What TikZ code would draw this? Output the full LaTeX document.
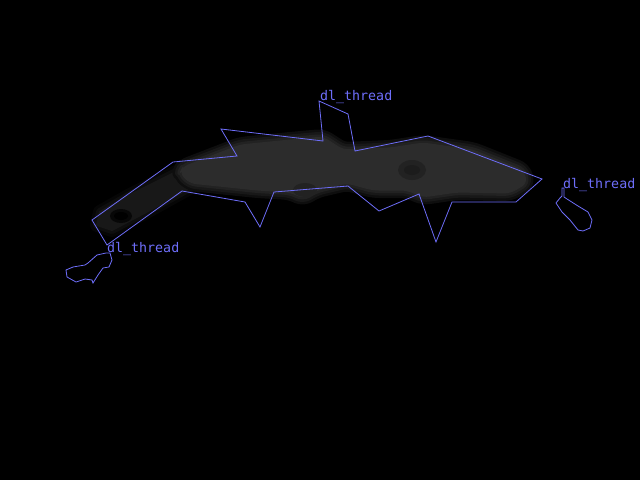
\documentclass[tikz,border=0pt]{standalone}
\usepackage{fontspec}
\newfontfamily\labelfont{DejaVu Sans Mono}
\definecolor{outline}{RGB}{110,110,250}
\definecolor{blobA}{RGB}{14,14,14}
\definecolor{blobB}{RGB}{24,24,24}
\definecolor{blobC}{RGB}{34,34,34}
\definecolor{blobD}{RGB}{44,44,44}
\begin{document}
\begin{tikzpicture}[x=1pt, y=-1pt]
    %--------------------%
    % Parameters
    %--------------------%
    \def\linethic{0.8pt}
    \def\labelsize{13.3}
    \def\blobbody{(180,173) -- (183,167) -- (240,145) -- (290,140) -- (323,137) -- (343,150) -- (390,148) -- (423,143) -- (473,150) -- (523,170) -- (527,183) -- (510,193) -- (457,192) -- (423,197) -- (407,190) -- (373,190) -- (347,183) -- (317,190) -- (303,198) -- (290,192) -- (257,190) -- (190,183) -- cycle}
    \def\blobtail{(190,165) -- (130,195) -- (100,212) -- (97,225) -- (112,230) -- (150,210) -- (195,185) -- cycle}

    %--------------------%
    % Background
    %--------------------%
    \fill[black] (0,0) rectangle (640,480);
    \useasboundingbox (0,0) rectangle (640,480);

    %--------------------%
    % Grey blob
    %--------------------%
    \filldraw[black!60!blobA, line width=14pt, line join=round] \blobtail;
    \filldraw[blobA, line width=8pt, line join=round] \blobtail;
    \filldraw[blobB, line width=2pt, line join=round] \blobtail;
    \fill[black!50!blobA] (121,216) ellipse (11 and 7);
    \fill[black] (121,216) ellipse (7 and 4);

    \filldraw[blobA, line width=16pt, line join=round, rounded corners=6pt] \blobbody;
    \filldraw[blobB, line width=11pt, line join=round, rounded corners=6pt] \blobbody;
    \filldraw[blobC, line width=6pt, line join=round, rounded corners=6pt] \blobbody;
    \filldraw[blobD, line width=1pt, line join=round, rounded corners=6pt] \blobbody;
    \fill[blobC] (412,170) ellipse (14 and 10);
    \fill[blobB!60!blobC] (412,170) ellipse (8 and 5);
    \fill[blobC] (305,190) ellipse (12 and 7);

    %--------------------%
    % Outlines
    %--------------------%
    \draw[outline, line width=\linethic] (92,220) -- (173,162) -- (237,156) -- (221,129) -- (323,141) -- (319,101) -- (348,114) -- (355,151) -- (428,136) -- (542,179) -- (516,202) -- (452,202) -- (436,242) -- (419,194) -- (379,211) -- (348,186) -- (274,192) -- (260,227) -- (245,202) -- (182,191) -- (107,245) -- cycle;
    \draw[outline, line width=\linethic] (106,253) -- (110,253) -- (112,260) -- (109,267) -- (103,268) -- (98,275) -- (93,283) -- (92,280) -- (85,279) -- (76,282) -- (67,277) -- (66,270) -- (73,267) -- (85,265) -- (88,263) -- (97,255) -- cycle;
    \draw[outline, line width=\linethic] (562,188) -- (564,188) -- (564,197) -- (567,199) -- (578,206) -- (588,212) -- (592,220) -- (590,228) -- (583,231) -- (578,230) -- (570,220) -- (562,212) -- (556,203) -- (560,198) -- (562,196) -- cycle;

    %--------------------%
    % Labels
    %--------------------%
    \node[anchor=base west, inner sep=0, text=outline, font=\labelfont\fontsize{\labelsize}{\labelsize}\selectfont] (labeltop) at (320,100) {dl\_thread};
    \node[anchor=base west, inner sep=0, text=outline, font=\labelfont\fontsize{\labelsize}{\labelsize}\selectfont] (labelleft) at (107,252) {dl\_thread};
    \node[anchor=base west, inner sep=0, text=outline, font=\labelfont\fontsize{\labelsize}{\labelsize}\selectfont] (labelright) at (563,188) {dl\_thread};

\end{tikzpicture}
\end{document}
